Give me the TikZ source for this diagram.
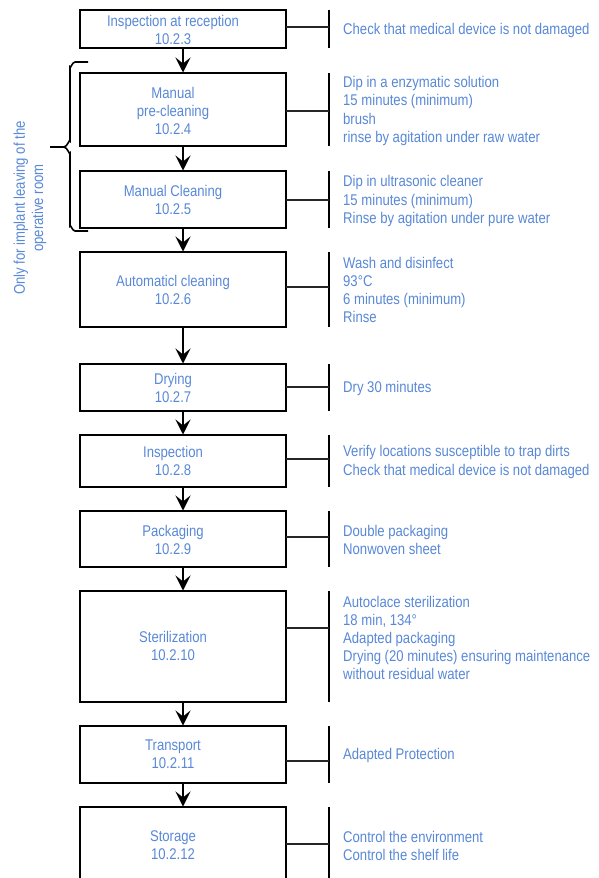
\documentclass[tikz,border=0pt]{standalone}
\usepackage{fontspec}
\setmainfont{Liberation Sans}[FakeStretch=0.846]
\usetikzlibrary{arrows.meta}
\definecolor{txtblue}{RGB}{88,136,214}
\begin{document}
\begin{tikzpicture}[x=1pt,y=-1pt,
  box/.style={draw=black, line width=2.2pt, anchor=north west, minimum width=206pt, inner sep=0pt, outer sep=0pt},
  lbl/.style={text=txtblue, font=\fontsize{15.5}{18.2}\selectfont, align=center, inner sep=0pt},
  note/.style={text=txtblue, font=\fontsize{15.5}{18.2}\selectfont, align=left, anchor=west, inner sep=0pt},
  sidebar/.style={line width=2pt, draw=black},
  link/.style={line width=1.5pt, draw=black!85},
  flow/.style={line width=2pt, draw=black, shorten >=0.5pt, -{Stealth[length=15pt,width=15pt,inset=6pt]}},
  brace/.style={line width=1.6pt, draw=black},
]
\useasboundingbox (0,0) rectangle (598,878);
\begin{scope}
\clip (0,0) rectangle (598,878);
% boxes
\node[box, minimum height=38pt]  (b1)  at (80,10)  {};
\node[box, minimum height=73pt]  (b2)  at (80,73)  {};
\node[box, minimum height=57pt]  (b3)  at (80,171) {};
\node[box, minimum height=75pt]  (b4)  at (80,252) {};
\node[box, minimum height=47pt]  (b5)  at (80,364) {};
\node[box, minimum height=52pt]  (b6)  at (80,435) {};
\node[box, minimum height=56pt]  (b7)  at (80,511) {};
\node[box, minimum height=111pt] (b8)  at (80,591) {};
\node[box, minimum height=57pt]  (b9)  at (80,726) {};
\node[box, minimum height=76pt]  (b10) at (80,807) {};
% box labels
\node[lbl] (l1)  at (173,30)  {Inspection at reception\\10.2.3};
\node[lbl] (l2)  at (173,111) {Manual\\pre-cleaning\\10.2.4};
\node[lbl] (l3)  at (173,200) {Manual Cleaning\\10.2.5};
\node[lbl] (l4)  at (173,290) {Automaticl cleaning\\10.2.6};
\node[lbl] (l5)  at (173,388) {Drying\\10.2.7};
\node[lbl] (l6)  at (173,461) {Inspection\\10.2.8};
\node[lbl] (l7)  at (173,540) {Packaging\\10.2.9};
\node[lbl] (l8)  at (173,646) {Sterilization\\10.2.10};
\node[lbl] (l9)  at (173,754) {Transport\\10.2.11};
\node[lbl] (l10) at (173,845) {Storage\\10.2.12};
% flow arrows
\foreach \a/\b in {b1/b2,b2/b3,b3/b4,b4/b5,b5/b6,b6/b7,b7/b8,b8/b9,b9/b10}{
  \draw[flow] (\a.south) -- (\b.north);
}
% side bars and links
\foreach \i/\t/\b/\c in {1/10/48/27, 2/73/146/111, 3/171/228/200, 4/252/327/287, 5/364/411/387, 6/435/487/459, 7/511/567/537, 8/591/702/628, 9/726/783/761, 10/807/883/844}{
  \coordinate (bt\i) at (329,\t);
  \coordinate (bb\i) at (329,\b);
  \coordinate (bc\i) at (329,\c);
  \draw[sidebar] (bt\i) -- (bb\i);
  \draw[link] (b\i.east |- bc\i) -- (bc\i);
}
% notes
\node[note] (n1)  at (343,30)  {Check that medical device is not damaged};
\node[note] (n2)  at (343,111) {Dip in a enzymatic solution\\15 minutes (minimum)\\brush\\rinse by agitation under raw water};
\node[note] (n3)  at (343,201) {Dip in ultrasonic cleaner\\15 minutes (minimum)\\Rinse by agitation under pure water};
\node[note] (n4)  at (343,290) {Wash and disinfect\\93°C\\6 minutes (minimum)\\Rinse};
\node[note] (n5)  at (343,388) {Dry 30 minutes};
\node[note] (n6)  at (343,462) {Verify locations susceptible to trap dirts\\Check that medical device is not damaged};
\node[note] (n7)  at (343,540) {Double packaging\\Nonwoven sheet};
\node[note] (n8)  at (343,638) {Autoclace sterilization\\18 min, 134°\\Adapted packaging\\Drying (20 minutes) ensuring maintenance\\without residual water};
\node[note] (n9)  at (343,755) {Adapted Protection};
\node[note] (n10) at (343,846) {Control the environment\\Control the shelf life};
% brace
\coordinate (brtop) at (88,62);
\coordinate (brtip) at (50,147);
\coordinate (brbot) at (88,231);
\draw[brace] (brtop) -- (75,62) to[out=180,in=-90] (70,67) -- (70,141)
  to[out=90,in=0] (64,147) -- (brtip);
\draw[brace] (64,147) to[out=0,in=-90] (70,153) -- (70,226)
  to[out=90,in=180] (75,231) -- (brbot);
% side text
\node[lbl, rotate=90] (side) at (30,208) {Only for implant leaving of the\\operative room};
\end{scope}
\end{tikzpicture}
\end{document}
